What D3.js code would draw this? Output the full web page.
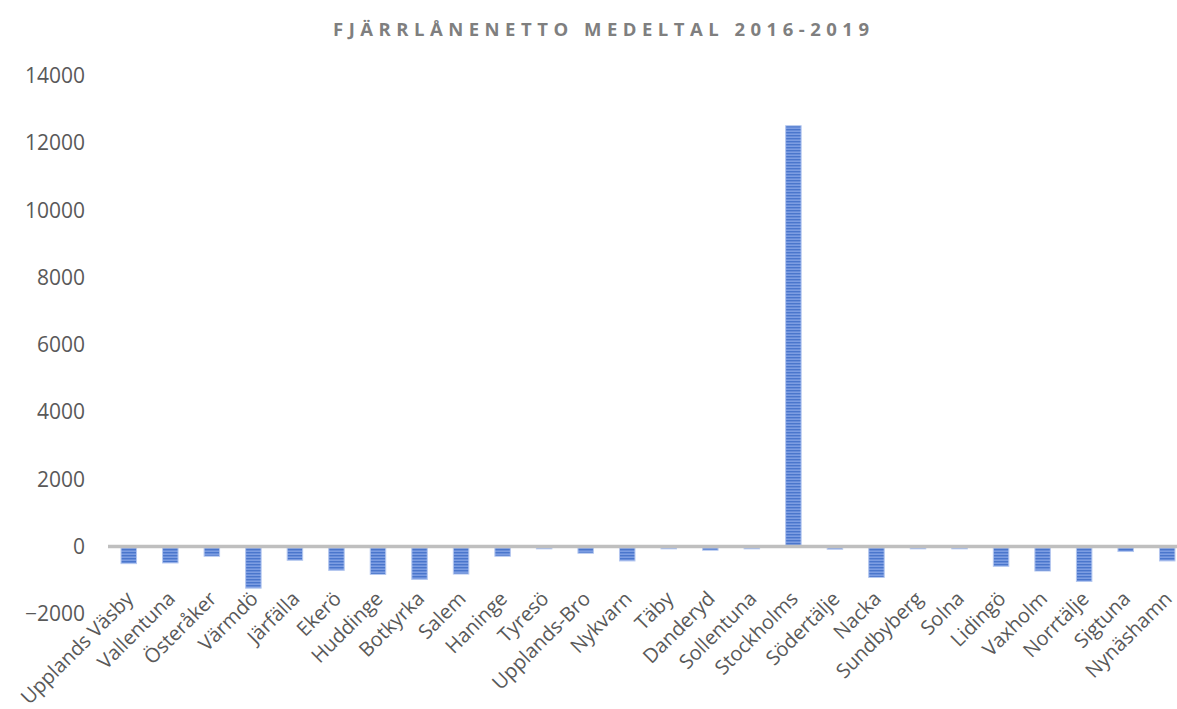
<!DOCTYPE html>
<html>
<head>
<meta charset="utf-8">
<script src="https://cdn.jsdelivr.net/npm/d3@7"></script>
<style>
  html, body { margin: 0; padding: 0; background: #ffffff; }
  svg { display: block; }
</style>
</head>
<body>
<svg id="chart" width="1177" height="709"></svg>
<script>
// Municipalities (kommuner) in Stockholm county
const categories = [
  "Upplands Väsby", "Vallentuna", "Österåker", "Värmdö", "Järfälla", "Ekerö",
  "Huddinge", "Botkyrka", "Salem", "Haninge", "Tyresö", "Upplands-Bro",
  "Nykvarn", "Täby", "Danderyd", "Sollentuna", "Stockholms", "Södertälje",
  "Nacka", "Sundbyberg", "Solna", "Lidingö", "Vaxholm", "Norrtälje",
  "Sigtuna", "Nynäshamn"
];

// Net interlibrary loans, average 2016-2019
const values = [
  -510, -490, -290, -1240, -410, -710,
  -830, -980, -820, -290, -70, -200,
  -430, -70, -110, -70, 12520, -80,
  -920, -70, -70, -590, -730, -1040,
  -150, -430
];

const yTicks = [-2000, 0, 2000, 4000, 6000, 8000, 10000, 12000, 14000];
const title = "FJÄRRLÅNENETTO MEDELTAL 2016-2019";

const svg = d3.select("#chart");
const textColor = "#595959";

const x = d3.scaleBand()
  .domain(categories)
  .range([108, 1188])
  .paddingInner(0.627)
  .paddingOuter(0.3135);

const y = d3.scaleLinear()
  .domain([-2000, 14000])
  .range([613.7, 76]);

// Horizontal stripe fill for the bars
const defs = svg.append("defs");
const pat = defs.append("pattern")
  .attr("id", "stripes")
  .attr("patternUnits", "userSpaceOnUse")
  .attr("width", 6)
  .attr("height", 3);
pat.append("rect").attr("width", 6).attr("height", 3).attr("fill", "#7c9de2");
pat.append("rect").attr("width", 6).attr("height", 1.4).attr("fill", "#4a76cc");

// Title
svg.append("text")
  .attr("x", 601)
  .attr("y", 36)
  .attr("text-anchor", "middle")
  .attr("font-family", "'Open Sans', sans-serif")
  .attr("font-weight", "bold")
  .attr("font-size", 18.5)
  .attr("fill", "#7f7f7f")
  .attr("textLength", 536)
  .attr("lengthAdjust", "spacing")
  .text(title);

// Y axis labels (no axis line, no gridlines)
const yAxis = d3.axisLeft(y)
  .tickValues(yTicks)
  .tickFormat(d3.format("d"))
  .tickSize(0)
  .tickPadding(0);

const yg = svg.append("g")
  .attr("transform", "translate(85,0)")
  .call(yAxis);
yg.select(".domain").remove();
yg.selectAll("text")
  .attr("font-family", "'Open Sans', sans-serif")
  .attr("font-size", 21)
  .attr("fill", textColor);

// Bars
svg.append("g")
  .selectAll("rect")
  .data(values)
  .join("rect")
  .attr("x", (d, i) => x(categories[i]))
  .attr("width", x.bandwidth())
  .attr("y", d => y(Math.max(0, d)))
  .attr("height", d => Math.abs(y(d) - y(0)))
  .attr("fill", "url(#stripes)")
  .attr("stroke", "#b4c7ef")
  .attr("stroke-width", 1);

// Zero baseline
svg.append("line")
  .attr("x1", 108)
  .attr("x2", 1177)
  .attr("y1", y(0))
  .attr("y2", y(0))
  .attr("stroke", "#bfbfbf")
  .attr("stroke-width", 3.3);

// Category labels, rotated
svg.append("g")
  .selectAll("text")
  .data(categories)
  .join("text")
  .attr("transform", d => `translate(${x(d) + x.bandwidth() / 2 + 1},${595}) rotate(-45)`)
  .attr("text-anchor", "end")
  .attr("dy", "0.35em")
  .attr("font-family", "'Open Sans', sans-serif")
  .attr("font-size", 20)
  .attr("fill", textColor)
  .text(d => d);
</script>
</body>
</html>
